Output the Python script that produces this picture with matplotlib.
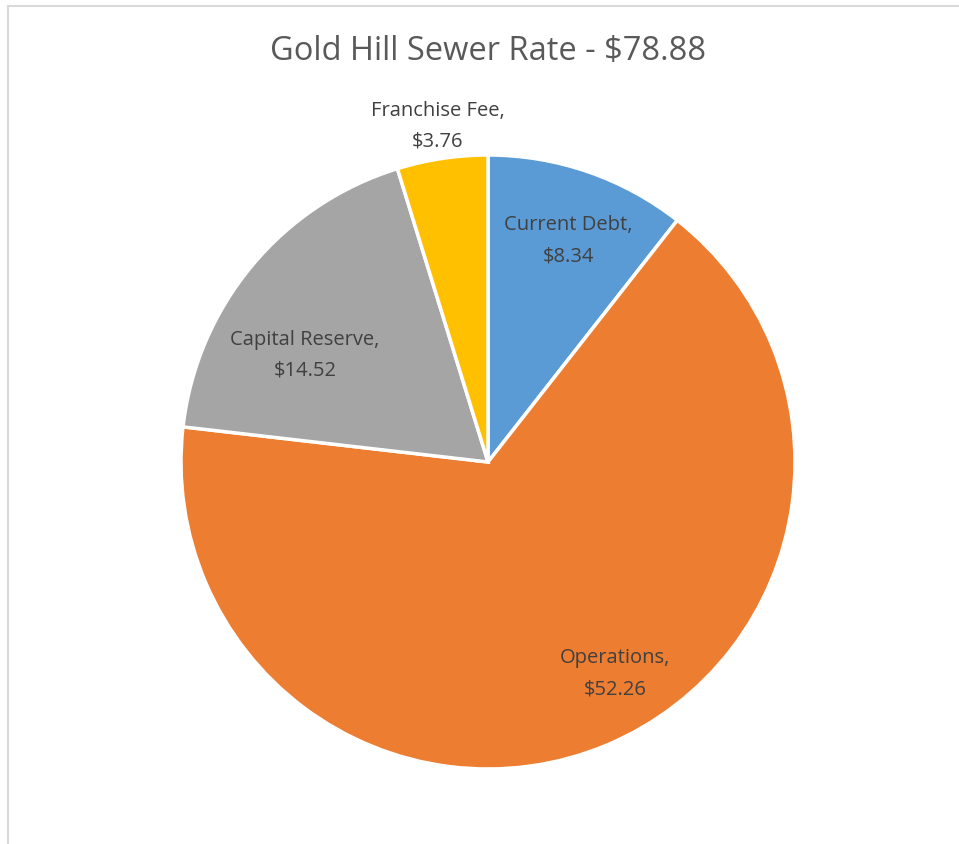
import matplotlib.pyplot as plt
from matplotlib.lines import Line2D
import numpy as np

W, H = 959, 844

categories = ["Current Debt", "Operations", "Capital Reserve", "Franchise Fee"]
values = [8.34, 52.26, 14.52, 3.76]
total = 78.88
colors = ["#5B9BD5", "#ED7D31", "#A5A5A5", "#FFC000"]

# label placement (angle in degrees, radius as fraction of pie radius)
label_pos = [(70.3, 0.775), (-58.6, 0.795), (149.0, 0.695), (98.4, 1.116)]

plt.rcParams['font.family'] = ['Open Sans', 'DejaVu Sans']

fig = plt.figure(figsize=(W / 100, H / 100), dpi=100)

# pie centre and radius in pixels
cx, cy, r = 488, 462, 307
ax = fig.add_axes([(cx - r) / W, (H - cy - r) / H, 2 * r / W, 2 * r / H])
ax.pie(values, colors=colors, startangle=90, counterclock=False, radius=1,
       wedgeprops=dict(edgecolor="white", linewidth=2.5))
ax.set_xlim(-1, 1)
ax.set_ylim(-1, 1)
ax.set_aspect("equal")
ax.axis("off")

for name, v, (ang, rr) in zip(categories, values, label_pos):
    a = np.deg2rad(ang)
    ax.text(rr * np.cos(a), rr * np.sin(a) - 0.01, "%s,\n\\$%.2f" % (name, v),
            ha="center", va="center", fontsize=14.5, color="#404040",
            linespacing=1.75)

fig.text(cx / W, 1 - 52 / H, "Gold Hill Sewer Rate - \\$%.2f" % total,
         ha="center", va="center", fontsize=23.5, color="#595959")

# chart area border (left and top edges visible)
fig.add_artist(Line2D([8 / W, 8 / W], [0, 1 - 6 / H], transform=fig.transFigure,
                      color="#D9D9D9", linewidth=1.5))
fig.add_artist(Line2D([8 / W, 1], [1 - 6 / H, 1 - 6 / H], transform=fig.transFigure,
                      color="#D9D9D9", linewidth=1.5))

fig.savefig("out.png", dpi=100, facecolor="white")
